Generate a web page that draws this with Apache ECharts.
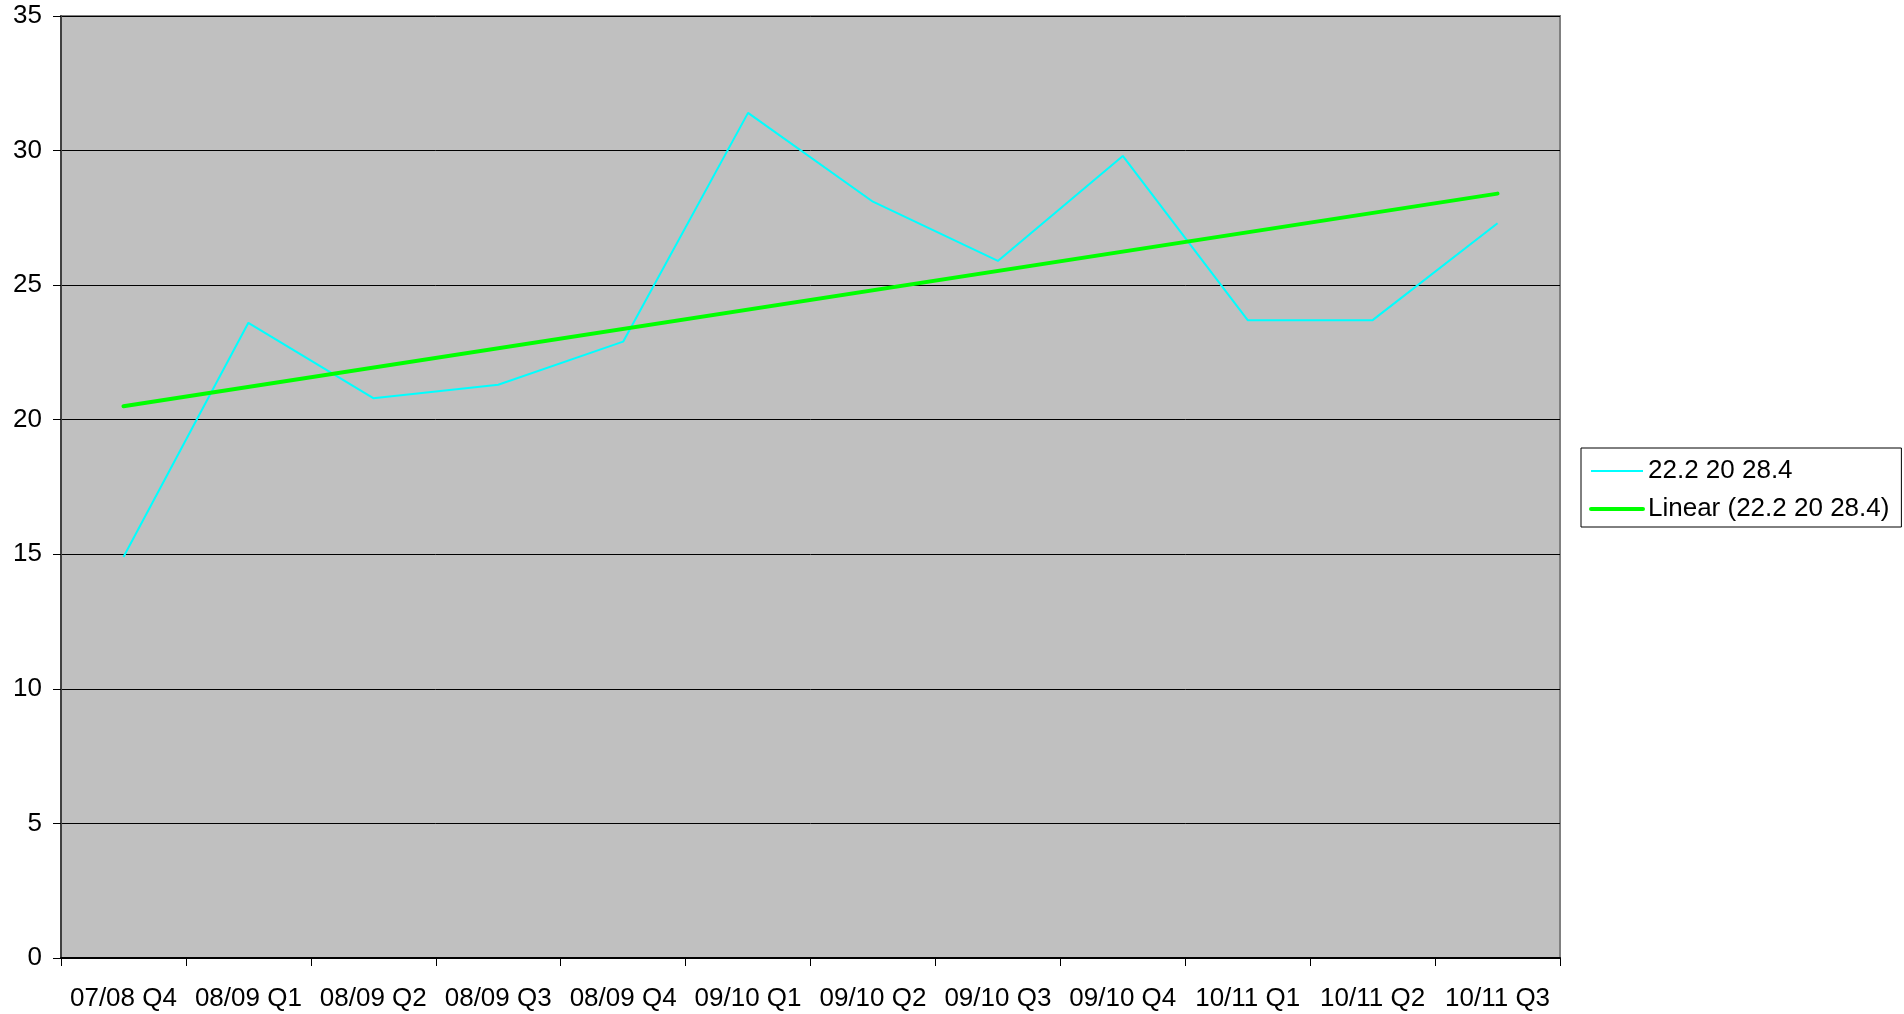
<!DOCTYPE html>
<html>
<head>
<meta charset="utf-8">
<script src="https://cdn.jsdelivr.net/npm/echarts@6/dist/echarts.min.js"></script>
<style>html,body{margin:0;padding:0;background:#fff;}#c{width:1904px;height:1014px;}</style>
</head>
<body>
<div id="c"></div>
<script>
var categories = ['07/08 Q4','08/09 Q1','08/09 Q2','08/09 Q3','08/09 Q4','09/10 Q1','09/10 Q2','09/10 Q3','09/10 Q4','10/11 Q1','10/11 Q2','10/11 Q3'];
var seriesValues = [14.9, 23.6, 20.8, 21.3, 22.9, 31.4, 28.1, 25.9, 29.8, 23.7, 23.7, 27.3];
var trendStart = 20.5;
var trendEnd = 28.4;
var seriesName = '22.2 20 28.4';
var trendName = 'Linear (22.2 20 28.4)';
var yTicks = [0, 5, 10, 15, 20, 25, 30, 35];

var trendData = categories.map(function (c, i) {
  if (i === 0) return trendStart;
  if (i === categories.length - 1) return trendEnd;
  return null;
});

var font = 'Liberation Sans, Arial, sans-serif';
var chart = echarts.init(document.getElementById('c'));
chart.setOption({
  animation: false,
  backgroundColor: '#ffffff',
  grid: {
    left: 61, top: 16, right: 344, bottom: 56,
    show: true, backgroundColor: '#c0c0c0', borderColor: '#808080', borderWidth: 2
  },
  legend: {
    orient: 'vertical',
    left: 1581, top: 448,
    backgroundColor: '#ffffff',
    borderColor: '#000000', borderWidth: 1, borderRadius: 0,
    padding: [10, 12, 5, 8],
    itemWidth: 52, itemHeight: 14, itemGap: 12,
    itemStyle: { opacity: 0 },
    textStyle: { fontFamily: font, fontSize: 26, color: '#000', padding: [0, 0, 0, 0] },
    data: [
      { name: seriesName, lineStyle: { width: 2 } },
      { name: trendName, lineStyle: { width: 4 } }
    ]
  },
  xAxis: {
    type: 'category',
    data: categories,
    boundaryGap: true,
    axisLine: { show: true, lineStyle: { color: '#000', width: 2 } },
    axisTick: { show: true, length: 8, lineStyle: { color: '#000', width: 1 } },
    axisLabel: { fontFamily: font, fontSize: 26, color: '#000', margin: 28, interval: 0 },
    splitLine: { show: false }
  },
  yAxis: {
    type: 'value',
    min: yTicks[0], max: yTicks[yTicks.length - 1], interval: 5,
    axisLine: { show: true, lineStyle: { color: '#404040', width: 2 } },
    axisTick: { show: true, length: 8, lineStyle: { color: '#000', width: 1 } },
    axisLabel: { fontFamily: font, fontSize: 26, color: '#000', margin: 19 },
    splitLine: { show: true, lineStyle: { color: '#000', width: 1 } }
  },
  series: [
    {
      name: seriesName, type: 'line', data: seriesValues,
      symbol: 'none', color: '#00ffff',
      lineStyle: { color: '#00ffff', width: 2 }
    },
    {
      name: trendName, type: 'line', data: trendData, connectNulls: true,
      symbol: 'none', color: '#00ff00',
      lineStyle: { color: '#00ff00', width: 4, cap: 'round' }
    }
  ]
});
</script>
</body>
</html>
